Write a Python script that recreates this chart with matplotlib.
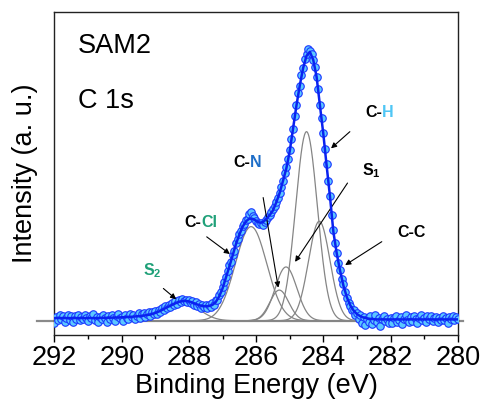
import matplotlib
matplotlib.use("Agg")
import matplotlib.pyplot as plt
import numpy as np

# C 1s spectrum of SAM2, intensities in arbitrary units above the baseline
# measured points, 292.00 -> 280.00 eV in 0.05 eV steps
counts = [
    -0.8, 1.5, 0.2, 2.0, 0.6, 1.8, -0.5, 1.2, 2.1, 0.4,
    1.6, -0.3, 1.9, 0.8, 2.2, 0.1, 1.4, 0.5, 2.0, 1.1,
    -0.2, 1.7, 0.9, 2.4, 0.3, 1.5, -0.6, 1.3, 0.7, 2.3,
    1.0, -0.4, 1.8, 0.6, 2.0, 1.2, -0.1, 1.6, 2.5, 0.9,
    1.4, -0.2, 2.0, 1.1, 0.5, 2.6, 1.3, 2.2, 0.8, 1.9,
    2.7, 1.2, 2.4, 3.0, 1.5, 2.6, 3.1, 1.8, 3.3, 2.4,
    3.5, 2.6, 4.0, 3.4, 4.6, 3.9, 5.4, 4.6, 5.9, 5.1,
    6.6, 5.8, 7.2, 6.4, 7.6, 7.0, 8.1, 7.2, 7.9, 6.8,
    7.6, 6.6, 7.3, 6.0, 6.8, 5.5, 6.3, 4.9, 5.9, 5.0,
    5.8, 4.8, 6.0, 5.2, 6.5, 6.0, 7.6, 7.9, 9.6, 10.8,
    12.6, 14.5, 16.3, 18.4, 20.6, 22.0, 24.5, 26.0, 28.8, 30.4,
    32.4, 33.5, 35.3, 36.0, 37.4, 38.0, 39.6, 40.3, 38.8, 38.2,
    37.0, 36.4, 35.8, 36.3, 35.7, 36.9, 37.6, 38.4, 39.5, 40.4,
    41.5, 42.6, 44.2, 45.8, 47.6, 49.6, 52.1, 54.8, 57.3, 60.2,
    63.4, 67.6, 71.2, 76.1, 80.3, 84.6, 87.2, 91.5, 94.1, 97.2,
    99.0, 101.0, 100.4, 99.2, 97.0, 94.3, 90.6, 86.0, 80.4, 75.5,
    69.8, 64.0, 58.2, 51.8, 46.5, 39.5, 33.6, 28.9, 25.2, 21.4,
    18.8, 15.4, 13.5, 10.6, 8.6, 6.6, 5.4, 4.0, 3.9, 2.2,
    2.9, 0.8, 2.2, -0.9, 1.5, -1.6, 0.6, -0.4, 1.8, -1.2,
    0.3, 2.0, -0.6, 1.0, -1.8, 0.8, 1.9, -0.2, 0.5, -1.0,
    1.2, -0.7, 0.9, 1.7, -0.3, 0.4, 1.5, -1.1, 0.7, 2.0,
    0.2, -0.5, 1.3, 0.0, 1.9, 0.6, -0.8, 1.1, 2.2, 0.3,
    1.0, -0.4, 1.6, 0.5, 1.9, -0.2, 0.9, 1.4, -0.6, 1.2,
    0.4, 1.8, 0.1, 1.0, -0.7, 1.5, 0.6, 1.7, 0.2, 1.3,
    0.5,
]

# fitted envelope, 292.0 -> 280.0 eV in 0.1 eV steps
envelope = [
    1.0, 1.0, 1.0, 1.0, 1.0, 1.0, 1.0, 1.0, 1.0, 1.0,
    1.0, 1.0, 1.0, 1.05, 1.05, 1.1, 1.1, 1.15, 1.2, 1.2,
    1.3, 1.3, 1.4, 1.5, 1.6, 1.7, 1.8, 2.0, 2.2, 2.5,
    2.9, 3.4, 4.0, 4.7, 5.3, 5.9, 6.5, 7.0, 7.3, 7.4,
    7.2, 6.8, 6.3, 5.8, 5.5, 5.4, 5.5, 5.9, 7.0, 9.0,
    12.0, 16.0, 20.0, 24.2, 28.5, 32.0, 35.0, 37.0, 38.0, 37.9,
    37.2, 36.5, 36.6, 37.8, 39.2, 41.0, 44.0, 47.5, 52.0, 56.7,
    63.0, 71.5, 80.0, 87.5, 94.0, 98.5, 100.0, 97.0, 90.7, 80.0,
    69.5, 57.5, 46.0, 33.0, 25.0, 18.5, 13.0, 8.8, 5.8, 3.8,
    2.5, 1.7, 1.2, 0.9, 0.7, 0.6, 0.5, 0.5, 0.5, 0.5,
    0.5, 0.5, 0.5, 0.5, 0.5, 0.5, 0.5, 0.5, 0.5, 0.5,
    0.5, 0.5, 0.5, 0.5, 0.5, 0.5, 0.5, 0.5, 0.5, 0.5,
    0.5,
]

# fitted components: S2, C-Cl, C-N, S1, C-H, C-C
peak_names = ["S2", "C-Cl", "C-N", "S1", "C-H", "C-C"]
peak_centers = [288.15, 286.15, 285.31, 285.11, 284.50, 284.12]
peak_heights = [6.8, 35.0, 11.4, 20.0, 70.3, 37.0]
peak_fwhm = [1.1, 1.1, 0.66, 0.76, 0.76, 0.75]

font_size = 19.5
label_size = 11.5


def gauss(x, c, h, w):
    return h * np.exp(-4 * np.log(2) * ((x - c) / w) ** 2)


def main():
    plt.rcParams["font.family"] = "Liberation Sans"
    plt.rcParams["mathtext.fontset"] = "custom"
    plt.rcParams["mathtext.rm"] = "Liberation Sans"
    plt.rcParams["mathtext.bf"] = "Liberation Sans:bold"

    data_x = np.linspace(292, 280, len(counts))
    fit_x = np.linspace(292, 280, len(envelope))
    fine_x = np.linspace(292, 280, 1201)

    fig = plt.figure(figsize=(4.84, 4.08), dpi=100)
    ax = fig.add_axes([0.1126, 0.1789, 0.8331, 0.7917])

    # baseline, runs a little past the frame on both sides
    ax.plot([292.52, 279.84], [0, 0], color="#8a8a8a", lw=1.6, clip_on=False, zorder=1)
    for c, h, w in zip(peak_centers, peak_heights, peak_fwhm):
        ax.plot(fine_x, gauss(fine_x, c, h, w), color="#858585", lw=0.9, zorder=2)

    ax.plot(data_x, counts, "o", ms=5.4, mfc="#5cc8ff", mec="#1a36ff", mew=0.8, zorder=3)
    ax.plot(fit_x, envelope, color="#0a22f0", lw=1.8, zorder=4)

    ax.set_xlim(292, 280)
    ax.set_ylim(-5.3, 114.8)
    ax.set_xticks(np.arange(292, 279, -2))
    ax.set_xticks(np.arange(291, 280, -2), minor=True)
    ax.set_yticks([])
    ax.tick_params(axis="x", which="major", direction="out", length=5, width=1,
                   labelsize=font_size, pad=2.5)
    ax.tick_params(axis="x", which="minor", direction="out", length=3, width=1)
    for s in ax.spines.values():
        s.set_linewidth(1.0)
        s.set_color("#222222")

    ax.set_xlabel("Binding Energy (eV)", fontsize=font_size, labelpad=1)
    ax.set_ylabel("Intensity (a. u.)", fontsize=font_size, labelpad=12)

    ax.text(0.058, 0.873, "SAM2", transform=ax.transAxes, fontsize=font_size, va="baseline")
    ax.text(0.058, 0.703, "C 1s", transform=ax.transAxes, fontsize=font_size, va="baseline")

    # peak labels: black "C-" followed by a coloured atom
    def two_part(x, y, first, second, color):
        t = ax.text(x, y, first, fontsize=label_size, fontweight="bold", va="baseline")
        ax.annotate(second, xy=(1, 0), xycoords=t, ha="left", va="bottom",
                    fontsize=label_size, fontweight="bold", color=color)

    two_part(282.76, 75.7, "C-", "H", "#4fc6f5")
    two_part(286.69, 57.1, "C-", "N", "#1e6ec8")
    two_part(288.12, 34.8, "C-", "Cl", "#1fa078")
    ax.text(281.81, 31.1, "C-C", fontsize=label_size, fontweight="bold", va="baseline")
    ax.text(282.85, 54.2, r"S$_\mathbf{1}$", fontsize=label_size, fontweight="bold", va="baseline")
    ax.text(289.37, 17.0, r"S$_\mathbf{2}$", fontsize=label_size, fontweight="bold",
            va="baseline", color="#1fa078")

    arrows = [
        ((283.21, 70.3), (283.77, 64.1)),   # C-H
        ((283.28, 51.2), (284.84, 21.9)),   # S1
        ((285.79, 45.8), (285.34, 12.3)),   # C-N
        ((287.47, 31.2), (286.78, 24.8)),   # C-Cl
        ((282.26, 29.4), (283.35, 20.7)),   # C-C
        ((288.76, 12.0), (288.38, 8.0)),    # S2
    ]
    for tail, tip in arrows:
        ax.annotate("", xy=tip, xytext=tail,
                    arrowprops=dict(arrowstyle="-|>", color="black", lw=0.8,
                                    mutation_scale=8, shrinkA=0, shrinkB=0))

    fig.savefig("out.png", dpi=100)


if __name__ == "__main__":
    main()
